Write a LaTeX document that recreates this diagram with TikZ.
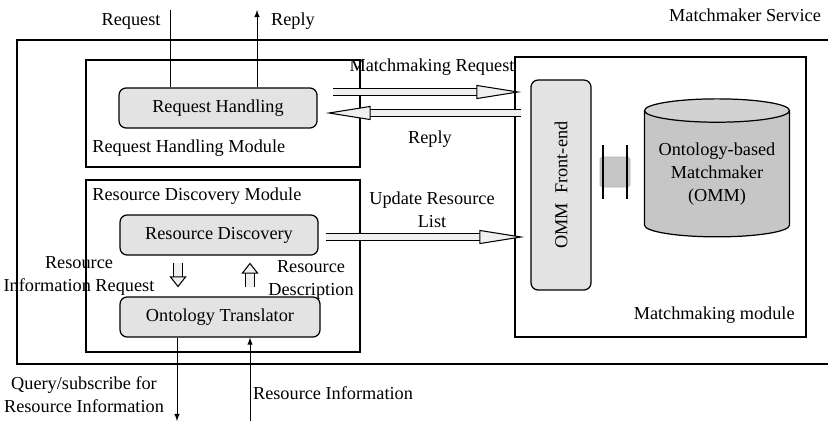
\documentclass[tikz,border=0pt]{standalone}
\usepackage{fontspec}
\setmainfont{Liberation Serif}
\usetikzlibrary{arrows.meta,shapes.geometric}
\tikzset{
    txt/.style={font=\fontsize{10.4}{13}\selectfont, inner sep=0pt},
    module/.style={draw, line width=0.8pt},
    unit/.style={draw, line width=0.7pt, rounded corners=4pt, fill=gray!22, minimum height=0.8cm, txt},
    fat/.style={line width=0.6pt, double=gray!12, double distance=3pt,
        -{Triangle[length=0.9cm, width=0.28cm, line width=0.6pt, fill=gray!12]}},
    thin/.style={line width=0.6pt, double=gray!12, double distance=4pt,
        -{Triangle[length=0.22cm, width=0.34cm, line width=0.6pt, fill=gray!12]}},
    linkbar/.style={line width=1.3pt},
}
\begin{document}
\begin{tikzpicture}[>=latex, x=0.02cm, y=-0.02cm]
    \useasboundingbox (0,0) rectangle (828,423);
    % service frame
    \draw[module] (828,40) -- (17,40) -- (17,364) -- (828,364);
    \node[txt] (svc) at (745,15) {Matchmaker Service};
    % request handling module
    \node[module, minimum width=5.48cm, minimum height=2.14cm] (rhm) at (223,113.5) {};
    \node[txt, anchor=west] (rhmlbl) at (92,148) {Request Handling Module};
    \node[unit, minimum width=3.96cm] (rh) at (218,108) {Request Handling};
    \coordinate (reqtop) at (170,10);
    \coordinate (reptop) at (257,10);
    \draw (reqtop) -- (reqtop |- rh.north);
    \draw[->] (reptop |- rh.north) -- (reptop);
    \node[txt] (reqlbl) at (131,21) {Request};
    \node[txt] (replbl) at (293,21) {Reply};
    % resource discovery module
    \node[module, minimum width=5.48cm, minimum height=3.44cm] (rdm) at (223,266) {};
    \node[txt, anchor=west] (rdmlbl) at (92,196) {Resource Discovery Module};
    \node[unit, minimum width=3.96cm] (rd) at (219,235) {Resource Discovery};
    \node[unit, minimum width=4cm] (ot) at (220,317) {Ontology Translator};
    \draw[thin] ([yshift=-0.14cm]rd.south -| 178,0) -- ([yshift=0.18cm]ot.north -| 178,0);
    \draw[thin] ([yshift=0.18cm]ot.north -| 250,0) -- ([yshift=-0.14cm]rd.south -| 250,0);
    \node[txt, align=center] (rirlbl) at (79,276) {Resource\\Information Request};
    \node[txt, align=center] (rdlbl) at (311,280) {Resource\\Description};
    \coordinate (qbot) at (177,421);
    \coordinate (ribot) at (250,421);
    \draw[->] (qbot |- ot.south) -- (qbot);
    \draw[->] (ribot) -- (ribot |- ot.south);
    \node[txt, align=center] (qlbl) at (84,395) {Query/subscribe for\\Resource Information};
    \node[txt] (rilbl) at (333,393) {Resource Information};
    % matchmaking module
    \node[module, minimum width=5.82cm, minimum height=5.6cm] (mm) at (660.5,197) {};
    \node[txt, anchor=east] (mmlbl) at (795,315) {Matchmaking module};
    \node[unit, minimum width=1.2cm, minimum height=4.2cm] (fe) at (561,185) {\rotatebox{90}{OMM\ \ Front-end}};
    \node[cylinder, shape border rotate=90, aspect=0.2, draw, line width=0.7pt,
        cylinder uses custom fill, cylinder body fill=gray!45, cylinder end fill=gray!35,
        minimum width=2.9cm, minimum height=2.76cm, align=center, txt] (omm) at (717,174)
        {Ontology-based\\Matchmaker\\(OMM)};
    \node[fill=gray!45, draw=gray!60, rounded corners=1pt, minimum width=0.6cm, minimum height=0.6cm] (link) at (615,172) {};
    \draw[linkbar] (603,145) -- (603,199);
    \draw[linkbar] (627,145) -- (627,199);
    % messages
    \draw[fat, shorten >=0.18cm] ([xshift=0.3cm]rh.east |- 0,92) -- (fe.west |- 0,92);
    \draw[fat, shorten <=0.18cm] (fe.west |- 0,113) -- ([xshift=0.16cm]rh.east |- 0,113);
    \draw[fat, shorten >=0.12cm] ([xshift=0.14cm]rd.east |- 0,237) -- (fe.west |- 0,237);
    \node[txt] (mreqlbl) at (432,67) {Matchmaking Request};
    \node[txt] (mreplbl) at (430,139) {Reply};
    \node[txt, align=center] (updlbl) at (432,210) {Update Resource\\List};
\end{tikzpicture}
\end{document}
